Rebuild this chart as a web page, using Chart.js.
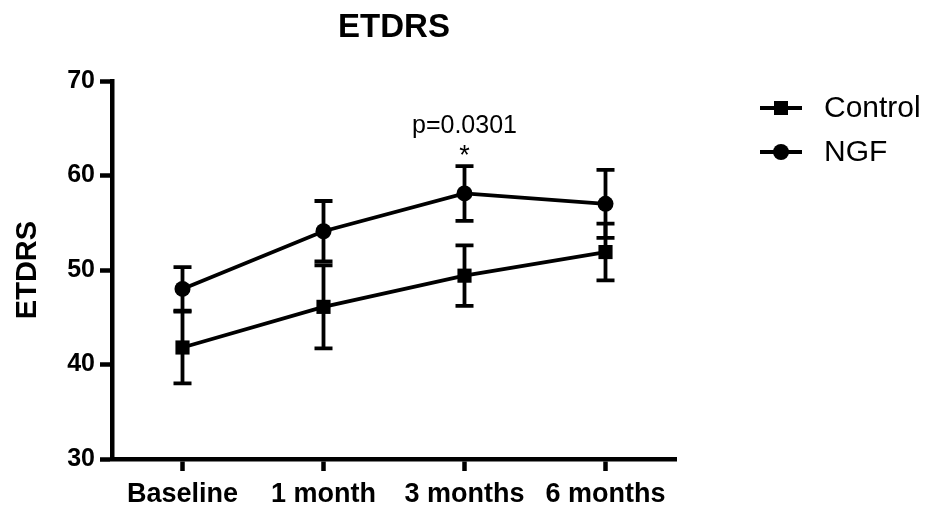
<!DOCTYPE html>
<html>
<head>
<meta charset="utf-8">
<script src="https://cdn.jsdelivr.net/npm/chart.js@4"></script>
<style>
  body { margin: 0; background: #fff; }
  #wrap { width: 925px; height: 507px; }
</style>
</head>
<body>
<div id="wrap"><canvas id="chart" width="925" height="507"></canvas></div>
<script>
// data (mean and error bar half-length)
const categories = ['Baseline', '1 month', '3 months', '6 months'];
const controlMean = [41.8, 46.1, 49.4, 51.9];
const controlErr = [3.8, 4.4, 3.2, 3.0];
const ngfMean = [48.0, 54.1, 58.1, 57.0];
const ngfErr = [2.3, 3.2, 2.9, 3.6];
const yMin = 30, yMax = 70, yStep = 10;

const chartTitle = 'ETDRS';
const yTitle = 'ETDRS';
const pText = 'p=0.0301';
const pIndex = 2; // 3 months

const FONT = '"Liberation Sans", Arial, Helvetica, sans-serif';

// error bars, drawn under the points
const errorBars = {
  id: 'errorBars',
  beforeDatasetsDraw(chart) {
    const { ctx, scales: { x, y } } = chart;
    ctx.save();
    ctx.strokeStyle = '#000';
    ctx.lineWidth = 3.8;
    chart.data.datasets.forEach(ds => {
      ds.data.forEach((v, i) => {
        const px = x.getPixelForValue(i);
        const top = y.getPixelForValue(v + ds.errors[i]);
        const bot = y.getPixelForValue(v - ds.errors[i]);
        ctx.beginPath();
        ctx.moveTo(px, top); ctx.lineTo(px, bot);
        ctx.moveTo(px - 9, top); ctx.lineTo(px + 9, top);
        ctx.moveTo(px - 9, bot); ctx.lineTo(px + 9, bot);
        ctx.stroke();
      });
    });
    ctx.restore();
  }
};

// title, legend and the p-value note
const extras = {
  id: 'extras',
  afterDraw(chart) {
    const { ctx, chartArea, scales: { x, y } } = chart;
    ctx.save();
    ctx.fillStyle = '#000';
    ctx.textAlign = 'center';
    ctx.textBaseline = 'alphabetic';
    ctx.font = 'bold 33px ' + FONT;
    ctx.fillText(chartTitle, (chartArea.left + chartArea.right) / 2, 37);

    // p-value over the NGF bar at 3 months
    const ngf = chart.data.datasets[1];
    const px = x.getPixelForValue(pIndex);
    const topPx = y.getPixelForValue(ngf.data[pIndex] + ngf.errors[pIndex]);
    ctx.font = '25px ' + FONT;
    ctx.fillText(pText, px, topPx - 33);
    ctx.font = '27px ' + FONT;
    ctx.fillText('*', px, topPx - 2);

    // legend
    const lx = chartArea.right + 84;
    chart.data.datasets.forEach((ds, i) => {
      const ly = 108 + i * 44;
      ctx.strokeStyle = '#000';
      ctx.lineWidth = 3.8;
      ctx.beginPath();
      ctx.moveTo(lx, ly); ctx.lineTo(lx + 42, ly);
      ctx.stroke();
      ctx.beginPath();
      if (ds.pointStyle === 'rect') {
        ctx.rect(lx + 21 - 7, ly - 7, 14, 14);
      } else {
        ctx.arc(lx + 21, ly, 8, 0, Math.PI * 2);
      }
      ctx.fill();
      ctx.textAlign = 'left';
      ctx.textBaseline = 'middle';
      ctx.font = '30px ' + FONT;
      ctx.fillText(ds.label, lx + 64, ly + 1);
    });
    ctx.restore();
  }
};

new Chart(document.getElementById('chart'), {
  type: 'line',
  data: {
    labels: categories,
    datasets: [
      {
        label: 'Control', data: controlMean, errors: controlErr,
        borderColor: '#000', backgroundColor: '#000', borderWidth: 3.8,
        pointStyle: 'rect', pointRadius: 10, pointBackgroundColor: '#000',
        pointBorderWidth: 0, tension: 0
      },
      {
        label: 'NGF', data: ngfMean, errors: ngfErr,
        borderColor: '#000', backgroundColor: '#000', borderWidth: 3.8,
        pointStyle: 'circle', pointRadius: 8, pointBackgroundColor: '#000',
        pointBorderWidth: 0, tension: 0
      }
    ]
  },
  options: {
    responsive: false,
    animation: false,
    layout: { padding: { top: 81, right: 249, left: 0, bottom: 0 } },
    plugins: { legend: { display: false }, title: { display: false }, tooltip: { enabled: false } },
    scales: {
      x: {
        offset: true,
        grid: { display: true, offset: false, drawOnChartArea: false, drawTicks: true, tickLength: 12, tickWidth: 4.5, color: '#000' },
        border: { display: true, color: '#000', width: 4.5 },
        ticks: { color: '#000', font: { family: FONT, size: 27, weight: 'bold' }, padding: 7, maxRotation: 0, autoSkip: false },
        afterFit: s => { s.height = 48; }
      },
      y: {
        min: yMin, max: yMax,
        grid: { display: true, drawOnChartArea: false, drawTicks: true, tickLength: 12, tickWidth: 4.5, color: '#000' },
        border: { display: true, color: '#000', width: 4.5 },
        ticks: { stepSize: yStep, color: '#000', font: { family: FONT, size: 25, weight: 'bold' }, padding: 5 },
        title: { display: true, text: yTitle, color: '#000', font: { family: FONT, size: 29, weight: 'bold' }, padding: { top: 11, bottom: 0 } },
        afterFit: s => { s.width = 112; }
      }
    }
  },
  plugins: [errorBars, extras]
});
</script>
</body>
</html>
